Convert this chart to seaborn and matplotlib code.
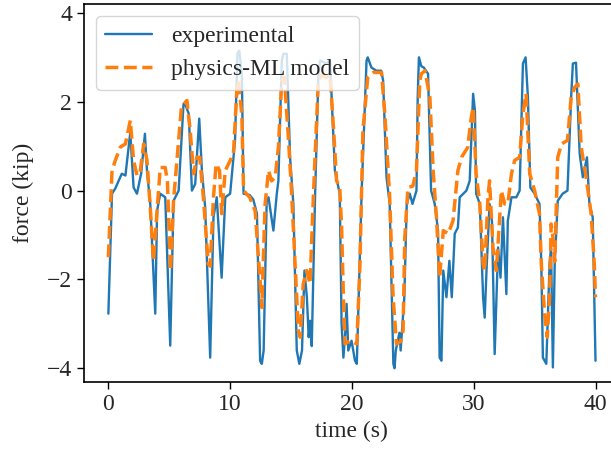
import matplotlib
matplotlib.use("Agg")
import matplotlib.pyplot as plt
import seaborn as sns
import pandas as pd

# experimental force trace (time s, force kip)
exp_t = [0, 0.3, 0.57, 1.1, 1.4, 1.8, 2.07, 2.35, 2.7, 3.0, 3.17, 3.44, 3.85, 4.0, 4.26,
         4.67, 5.08, 5.35, 5.77, 6.17, 6.3, 6.6, 6.86, 7.13, 7.46, 7.68, 7.95, 8.36, 8.63,
         8.9, 9.3, 9.6, 10.0, 10.4, 10.6, 10.75, 10.96, 11.1, 11.6, 11.9, 12.2, 12.46, 12.6,
         12.75, 13.0, 13.15, 13.55, 13.83, 13.96, 14.24, 14.37, 14.65, 14.92, 15.19, 15.47,
         15.68, 15.9, 16.1, 16.3, 16.45, 16.56, 16.7, 16.97, 17.24, 17.38, 17.9, 18.2, 18.6,
         19.0, 19.15, 19.3, 19.45, 19.56, 19.7, 19.97, 20.25, 20.4, 20.8, 21.2, 21.3, 21.6,
         22.0, 22.4, 22.56, 22.84, 23.1, 23.4, 23.5, 23.6, 23.9, 24.0, 24.3, 24.5, 24.75,
         24.97, 25.3, 25.4, 25.5, 25.7, 25.9, 26.25, 26.5, 26.8, 27.07, 27.2, 27.35, 27.5,
         27.76, 28.0, 28.2, 28.44, 28.7, 28.85, 29.4, 29.67, 29.95, 30.1, 30.2, 30.5, 30.77,
         30.9, 31.05, 31.3, 31.5, 31.72, 32.0, 32.2, 32.4, 32.68, 32.8, 33.1, 33.5, 33.77,
         34.04, 34.26, 34.45, 34.65, 35.0, 35.4, 35.55, 35.68, 35.96, 36.23, 36.35, 36.5,
         36.65, 36.9, 37.3, 37.7, 38.0, 38.14, 38.4, 38.7, 38.96, 39.3, 39.5, 39.77, 40.0]
exp_f = [-2.77, -0.07, 0.05, 0.38, 0.34, 1.31, 0.07, -0.07, 0.4, 1.28, 0.45, -0.3, -2.77,
         -0.45, -0.07, -0.15, -3.49, -0.23, 0.0, 1.95, 1.95, 1.73, 0.0, 0.15, 1.62, 0.45,
         -0.38, -3.76, -0.6, -0.15, -1.96, -0.15, -0.07, 1.13, 3.1, 3.15, 2.6, -0.07, -0.1,
         -0.2, -0.52, -3.83, -3.9, -3.6, -0.23, -0.15, -0.9, -0.07, 0.22, 2.93, 3.08, 3.08,
         0.75, -0.3, -3.6, -3.9, -3.6, -1.8, -2.4, -3.3, -2.93, -3.5, -0.15, 2.55, 2.93,
         2.86, 2.93, 0.45, -0.07, -3.0, -3.76, -3.2, -2.55, -3.6, -3.38, -3.83, -3.9, 0.0,
         2.93, 3.0, 2.77, 2.7, 2.7, 2.48, 0.3, -0.3, -3.9, -4.0, -3.6, -3.2, -3.6, -2.4,
         -0.3, -0.07, -0.3, 0.0, 2.1, 3.0, 2.8, 2.77, 2.63, 0.0, -0.3, -0.9, -3.76, -3.83,
         -1.8, -2.4, -1.58, -2.4, -0.97, -0.83, -0.15, 0.0, 0.22, 2.18, 1.8, -0.07, -0.3,
         -2.4, -2.86, -1.8, -0.3, -0.7, -3.68, -1.28, -1.96, -0.6, -2.33, -0.68, -0.15,
         -0.15, 0.0, 2.86, 3.0, 2.1, 0.07, -0.07, -0.3, -1.65, -3.76, -3.9, -1.65, -1.3,
         -3.98, -1.65, -0.23, -0.07, 0.0, 2.1, 2.86, 2.88, 0.83, 0.3, 0.75, -0.3, -0.6, -3.83]

# physics-ML model prediction
model_t = [0, 0.3, 0.57, 0.98, 1.4, 1.8, 2.07, 2.35, 2.6, 2.9, 3.17, 3.44, 3.7, 4.0, 4.26,
           4.67, 4.85, 5.1, 5.35, 5.63, 6.0, 6.45, 6.72, 7.0, 7.27, 7.5, 7.8, 8.2, 8.36,
           8.63, 8.85, 9.13, 9.3, 9.6, 10.0, 10.27, 10.55, 10.68, 10.96, 11.1, 11.6, 12.05,
           12.46, 12.6, 12.87, 13.15, 13.4, 13.7, 13.96, 14.24, 14.45, 14.78, 15.05, 15.33,
           15.6, 15.75, 16.0, 16.28, 16.56, 16.83, 17.24, 17.5, 17.9, 18.2, 18.5, 18.74,
           19.0, 19.15, 19.3, 19.43, 19.84, 20.4, 20.66, 20.9, 21.3, 21.75, 22.43, 22.7,
           23.1, 23.38, 23.66, 24.0, 24.2, 24.34, 24.6, 25.0, 25.3, 25.57, 25.7, 26.0, 26.4,
           26.67, 26.94, 27.2, 27.5, 27.9, 28.3, 28.7, 29.0, 29.5, 29.8, 29.95, 30.2, 30.5,
           30.77, 30.9, 31.17, 31.3, 31.58, 31.86, 32.27, 32.54, 32.8, 33.1, 33.36, 33.77,
           34.04, 34.3, 34.6, 35.0, 35.4, 35.55, 35.82, 36.04, 36.23, 36.36, 36.5, 36.65,
           36.9, 37.2, 37.7, 38.0, 38.3, 38.55, 38.83, 39.23, 39.64, 39.9, 40.0]
model_f = [-1.5, 0.45, 0.68, 0.98, 1.05, 1.58, 0.68, 0.34, 0.4, 1.05, 0.68, -0.38, -1.58,
           -0.45, 0.52, 0.52, 0.2, -1.8, -0.23, 0.68, 1.88, 2.03, 1.35, 0.38, 0.75, 0.75,
           -0.15, -1.65, -1.7, -0.15, 0.6, 0.45, -0.52, 0.45, 0.68, 0.83, 2.25, 2.48, 1.7,
           0.0, -0.15, -0.45, -2.03, -2.63, -0.3, 0.45, 0.22, 0.3, 0.97, 2.48, 2.55, 1.2,
           -0.07, -1.65, -3.15, -3.3, -2.1, -1.8, -2.1, -0.15, 2.48, 2.6, 2.55, 2.6, 1.35,
           0.22, 0.07, -0.8, -2.4, -3.45, -3.38, -3.45, -1.65, 1.35, 2.55, 2.66, 2.66, 1.73,
           -0.15, -2.4, -3.45, -3.4, -3.15, -1.05, 0.07, 0.1, 0.45, 2.48, 2.63, 2.7, 2.1,
           0.45, -0.6, -1.96, -0.9, -0.97, -0.68, 0.45, 0.75, 0.97, 1.65, 1.88, 0.38, -0.3,
           -1.65, -1.8, -0.15, 0.22, -1.28, -1.8, 0.0, -0.3, -0.3, 0.38, 0.68, 0.75, 1.73,
           2.18, 0.38, 0.0, -0.52, -1.65, -2.77, -3.3, -2.4, -0.75, -1.05, -1.6, 0.75, 1.05,
           1.13, 2.1, 2.33, 2.4, 0.97, 0.3, -0.52, -1.65, -2.4]

x_ticks = [0, 10, 20, 30, 40]
y_ticks = [-4, -2, 0, 2, 4]

sns.set_style("ticks")
plt.rcParams['font.family'] = ['Liberation Serif', 'DejaVu Serif']
plt.rcParams['font.size'] = 17

exp_df = pd.DataFrame({'t': exp_t, 'f': exp_f})
model_df = pd.DataFrame({'t': model_t, 'f': model_f})

fig = plt.figure(figsize=(6.11, 4.5), dpi=100)
ax = fig.add_axes([0.1375, 0.151, 0.877, 0.84])

sns.lineplot(data=exp_df, x='t', y='f', ax=ax, color='#1f77b4', lw=1.7,
             estimator=None, sort=False, label='experimental')
sns.lineplot(data=model_df, x='t', y='f', ax=ax, color='#ff7f0e', lw=2.5,
             estimator=None, sort=False, linestyle='--', label='physics-ML model')

ax.set_xlim(-2, 42)
ax.set_ylim(-4.31, 4.2)
ax.set_xticks(x_ticks)
ax.set_yticks(y_ticks)
ax.tick_params(labelsize=17, length=5, width=1, color='black')
ax.set_xlabel('time (s)', fontsize=17)
ax.set_ylabel('force (kip)', fontsize=17, labelpad=9)
for s in ax.spines.values():
    s.set_color('black')
    s.set_linewidth(1.2)
ax.legend(loc='upper left', fontsize=17, frameon=True, handlelength=2.0)

fig.savefig('out.png', dpi=100)
